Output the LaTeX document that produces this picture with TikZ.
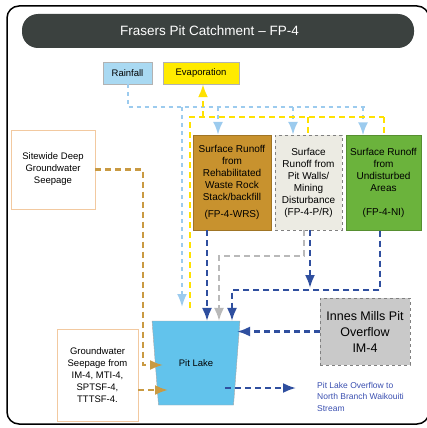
\documentclass[tikz,border=0pt]{standalone}
\usepackage{fontspec}
\setmainfont{Liberation Sans}
\usetikzlibrary{arrows.meta,shapes.geometric}

\definecolor{titlegrey}{HTML}{3B413F}
\definecolor{rainblue}{HTML}{A9D9F2}
\definecolor{skyline}{HTML}{9CCBEE}
\definecolor{evapyellow}{HTML}{FFEB00}
\definecolor{sunline}{HTML}{FFE100}
\definecolor{wrsbrown}{HTML}{C8922E}
\definecolor{prgrey}{HTML}{ECEBE3}
\definecolor{nigreen}{HTML}{6BB33C}
\definecolor{gwbrown}{HTML}{C99A42}
\definecolor{gwborder}{HTML}{F2C9A0}
\definecolor{deepblue}{HTML}{2F4F9F}
\definecolor{imgrey}{HTML}{C9C9C9}
\definecolor{lakeblue}{HTML}{62C3EC}
\definecolor{ovfblue}{HTML}{3A4FB0}

\begin{document}
\begin{tikzpicture}[x=1pt,y=-1pt,>={Latex[length=13pt,width=10pt]}]
			\tikzstyle{box}=[thin, align=center, inner sep=2pt, font=\fontsize{10}{12}\selectfont]
			\tikzstyle{flow}=[line width=2.2pt, dash pattern=on 6pt off 4pt]
			\tikzstyle{skyflow}=[flow, skyline, line width=2pt, dash pattern=on 4pt off 4pt]
			\tikzstyle{sunflow}=[flow, sunline]
			\tikzstyle{deepflow}=[flow, deepblue]
			\tikzstyle{greyflow}=[flow, gray!55]
			\tikzstyle{gwflow}=[flow, gwbrown]

			\useasboundingbox (0,0) rectangle (426,428);
			\draw [line width=1.5pt, rounded corners=12pt] (7,6) rectangle (429,424);

			\node (title) [fill=titlegrey, rounded corners=16pt, minimum width=392, minimum height=34, text=white, font=\fontsize{13.5}{16}\selectfont] at (218,31) {Frasers Pit Catchment -- FP-4\hspace*{17pt}};

			\node (rain) [box, draw=gray!60, fill=rainblue, minimum width=49, minimum height=22, font=\fontsize{9.5}{11}\selectfont] at (127.5,73) {Rainfall};
			\node (evap) [box, draw=gray!60, fill=evapyellow, minimum width=76, minimum height=22, font=\fontsize{9.5}{11}\selectfont] at (201,73) {Evaporation};

			\node (WRS) [box, draw=wrsbrown!80!black, fill=wrsbrown, minimum width=78, minimum height=95] at (232,182.5) {Surface Runoff\\from\\Rehabilitated\\Waste Rock\\Stack/backfill\\[5pt](FP-4-WRS)};
			\node (PR) [box, draw=gray, dashed, fill=prgrey, minimum width=67, minimum height=95] at (308.5,182.5) {Surface\\Runoff from\\Pit Walls/\\Mining\\Disturbance\\(FP-4-P/R)};
			\node (NI) [box, draw=nigreen!80!black, fill=nigreen, minimum width=75, minimum height=95] at (383.5,183) {Surface Runoff\\from\\Undisturbed\\Areas\\[12pt](FP-4-NI)};

			\node (SDG) [box, draw=gwborder, fill=white, minimum width=84, minimum height=79, font=\fontsize{9.5}{12}\selectfont] at (53,169.5) {Sitewide Deep\\Groundwater\\Seepage};
			\node (GWS) [box, draw=gwborder, fill=white, minimum width=81, minimum height=92, font=\fontsize{9.5}{12}\selectfont] at (97.5,375) {Groundwater\\Seepage from\\IM-4, MTI-4,\\SPTSF-4,\\TTTSF-4.};

			\node (lake) [trapezium, shape border rotate=180, trapezium stretches=true, trapezium angle=75.6, draw=gray!70, thin, fill=lakeblue, minimum width=88, minimum height=84, outer sep=0pt, font=\fontsize{9.5}{11}\selectfont] at (196,363) {Pit Lake};

			\node (IM4) [box, draw=gray, dashed, fill=imgrey, minimum width=90, minimum height=67, font=\fontsize{12.5}{16}\selectfont] at (365,331.5) {Innes Mills Pit\\Overflow\\IM-4};
			\node (ovf) [anchor=west, align=left, inner sep=0pt, text=ovfblue, font=\fontsize{8.5}{11.5}\selectfont] at (317,396.5) {Pit Lake Overflow to\\North Branch Waikouiti\\Stream};

			% rainfall onto the catchments
			\draw [skyflow] (rain.south) |- (365,107);
			\draw [skyflow, ->] (218,107) -- (218,0 |- WRS.north);
			\draw [skyflow, ->] (293,107) -- (293,0 |- PR.north);
			\draw [skyflow, ->] (363,107) -- (363,0 |- NI.north);
			\draw [skyflow, ->] (182,107) -- (182,307);

			% evaporation
			\draw [sunflow] (190,308) |- (384,117);
			\draw [sunflow] (308,117) -- (308,0 |- PR.north);
			\draw [sunflow] (384,117) -- (384,0 |- NI.north);
			\draw [sunflow, ->] (203,117) -- (203,0 |- evap.south);

			% runoff into the pit lake
			\draw [deepflow, ->] (207,0 |- WRS.south) -- (207,0 |- lake.north);
			\draw [greyflow, ->] (304,0 |- PR.south) |- (219,256) -- (219,0 |- lake.north);
			\draw [deepflow, ->] (310,0 |- PR.south) -- (310,288);
			\draw [deepflow, ->] (380,0 |- NI.south) |- (232,290) -- (232,0 |- lake.north);
			\draw [deepflow, ->] (IM4.west) -- (237,0 |- IM4.west);
			\draw [deepflow, ->] (225,388) -- (296,388);

			% groundwater
			\draw [gwflow, ->] (SDG.east) -| (143,365) -- (163,365);
			\draw [gwflow, ->] (GWS.east |- 0,390) -- (168,390);
\end{tikzpicture}
\end{document}
